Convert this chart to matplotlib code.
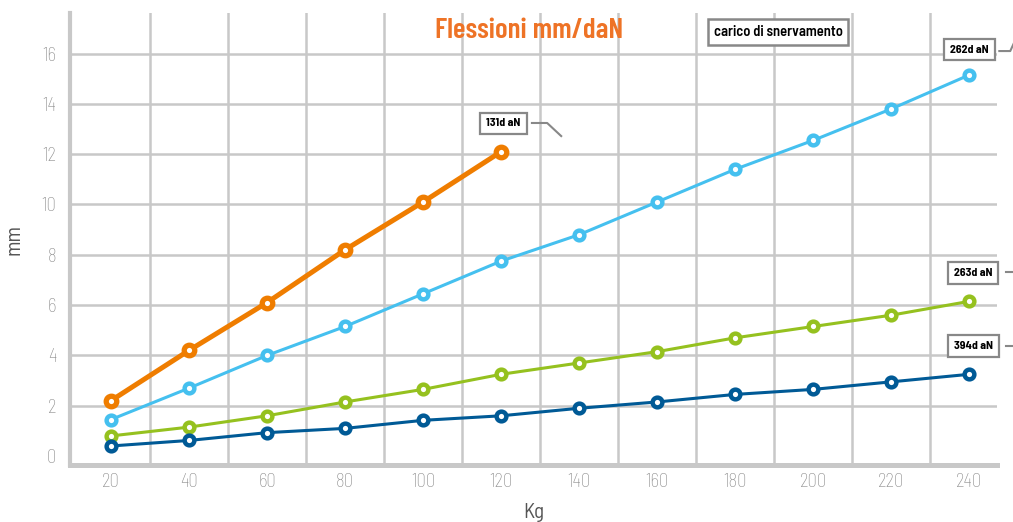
import matplotlib
matplotlib.use("Agg")
from matplotlib import pyplot as plt

plt.rcParams['font.family'] = ['Barlow Semi Condensed', 'DejaVu Sans']

# data (Kg -> mm)
kg = [20, 40, 60, 80, 100, 120, 140, 160, 180, 200, 220, 240]
mm_131 = [2.2, 4.2, 6.1, 8.2, 10.1, 12.1]
mm_262 = [1.45, 2.7, 4.0, 5.15, 6.45, 7.75, 8.8, 10.1, 11.4, 12.55, 13.8, 15.15]
mm_263 = [0.8, 1.15, 1.6, 2.15, 2.65, 3.25, 3.7, 4.15, 4.7, 5.15, 5.6, 6.15]
mm_394 = [0.4, 0.62, 0.93, 1.1, 1.42, 1.6, 1.9, 2.15, 2.45, 2.65, 2.95, 3.25]

x_ticks = [20, 40, 60, 80, 100, 120, 140, 160, 180, 200, 220, 240]
y_ticks = [0, 2, 4, 6, 8, 10, 12, 14, 16]
x_grid = [30, 50, 70, 90, 110, 130, 150, 170, 190, 210, 230]

title = "Flessioni mm/daN"
legend_title = "carico di snervamento"
labels = ["131d aN", "262d aN", "263d aN", "394d aN"]

c_orange = "#ef7d00"
c_light = "#45c0ef"
c_green = "#95c11f"
c_navy = "#005a96"
c_grid = "#c8c8c8"
c_box = "#888888"

fig = plt.figure(figsize=(10.13, 5.22), dpi=100)
ax = fig.add_axes([0.0691, 0.109, 0.9151, 0.8655])
ax.set_xlim(9.5, 247.1)
ax.set_ylim(-0.36, 17.6)

# grid
for g in x_grid:
    ax.axvline(g, color=c_grid, lw=1.8, zorder=0)
for g in y_ticks[1:]:
    ax.axhline(g, color=c_grid, lw=1.8, zorder=0)

for s in ["top", "right"]:
    ax.spines[s].set_visible(False)
ax.spines["left"].set_color(c_grid)
ax.spines["left"].set_linewidth(3)
ax.spines["bottom"].set_color(c_grid)
ax.spines["bottom"].set_linewidth(3.6)

ax.set_xticks(x_ticks)
ax.set_yticks(y_ticks)
ax.tick_params(length=0, labelsize=13.5, labelcolor="#8a8a8a")
for lab in ax.get_xticklabels() + ax.get_yticklabels():
    lab.set_fontweight("light")
ax.tick_params(axis="x", pad=6)
ax.tick_params(axis="y", pad=10)
ax.set_xlabel("Kg", fontsize=15, color="#555555", labelpad=8)
ax.set_ylabel("mm", fontsize=15, color="#555555", labelpad=13)

# series
ax.plot(kg[:6], mm_131, color=c_orange, lw=3.6, marker="o", ms=7.6,
        mew=3.8, mfc="white", mec=c_orange, zorder=5)
ax.plot(kg, mm_262, color=c_light, lw=2.2, marker="o", ms=7,
        mew=3.2, mfc="white", mec=c_light, zorder=4)
ax.plot(kg, mm_263, color=c_green, lw=2.2, marker="o", ms=7,
        mew=3.2, mfc="white", mec=c_green, zorder=4)
ax.plot(kg, mm_394, color=c_navy, lw=2.2, marker="o", ms=7,
        mew=3.2, mfc="white", mec=c_navy, zorder=4)

# label boxes
def tag(x, y, s):
    ax.text(x, y, s, ha="center", va="center", fontsize=8.5, fontweight="bold",
            bbox=dict(boxstyle="square,pad=0.5", fc="white", ec=c_box, lw=1.6),
            zorder=6, clip_on=False)

tag(120.6, 13.22, labels[0])
tag(240.1, 16.16, labels[1])
tag(241.0, 7.28, labels[2])
tag(241.0, 4.37, labels[3])

ax.plot([127.9, 131.8, 135.4], [13.24, 13.24, 12.72], color=c_box, lw=1.5, zorder=6)
ax.plot([247.7, 250.5, 251.8], [16.1, 16.1, 16.54], color=c_box, lw=1.5, clip_on=False)
ax.plot([249.5, 251.5], [7.32, 7.32], color=c_box, lw=1.5, clip_on=False)
ax.plot([249.5, 251.5], [4.37, 4.37], color=c_box, lw=1.5, clip_on=False)

ax.text(191, 16.86, legend_title, ha="center", va="center", fontsize=10.5,
        fontweight="semibold",
        bbox=dict(boxstyle="square,pad=0.4", fc="white", ec=c_box, lw=1.8),
        zorder=6)

fig.text(0.522, 0.9425, title, ha="center", va="center", fontsize=21,
         fontweight="semibold", color="#ee7326",
         family=["Barlow Condensed", "DejaVu Sans"])

fig.savefig("out.png", dpi=100)
